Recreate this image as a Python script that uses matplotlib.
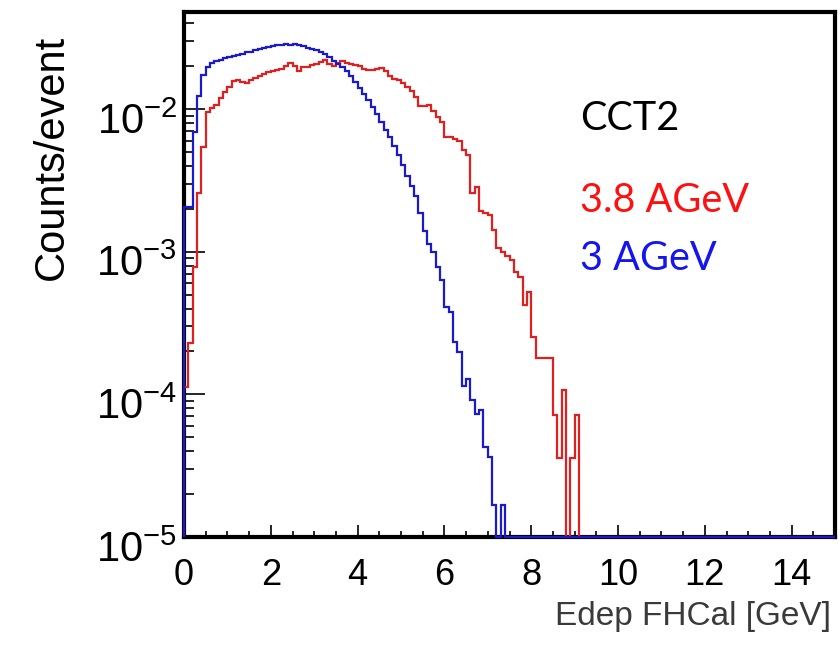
import numpy as np
import matplotlib
matplotlib.use("Agg")
import matplotlib.pyplot as plt
import matplotlib.transforms as mtransforms
from matplotlib.ticker import LogLocator, MultipleLocator, LogFormatterMathtext, NullFormatter

# ---------------- data (counts/event per 0.1 GeV bin, starting at 0 GeV) ----------------
bin_width = 0.1
n_bins = 150

red_38agev = [
    1.13e-4, 2.30e-4, 7.85e-4, 2.59e-3, 5.46e-3, 9.60e-3, 1.024e-2, 1.076e-2, 1.204e-2, 1.327e-2,
    1.439e-2, 1.585e-2, 1.611e-2, 1.560e-2, 1.535e-2, 1.611e-2, 1.664e-2, 1.718e-2, 1.775e-2, 1.833e-2,
    1.863e-2, 1.893e-2, 1.924e-2, 2.020e-2, 2.120e-2, 2.020e-2, 1.863e-2, 1.987e-2, 1.987e-2, 2.052e-2,
    2.086e-2, 2.154e-2, 2.225e-2, 2.086e-2, 2.020e-2, 2.120e-2, 2.189e-2, 2.120e-2, 2.086e-2, 2.052e-2,
    2.020e-2, 1.924e-2, 1.893e-2, 1.893e-2, 1.924e-2, 1.955e-2, 1.863e-2, 1.718e-2, 1.637e-2, 1.611e-2,
    1.517e-2, 1.439e-2, 1.348e-2, 1.224e-2, 1.058e-2, 1.058e-2, 1.076e-2, 9.76e-3, 8.86e-3, 8.17e-3,
    6.41e-3, 6.41e-3, 6.21e-3, 6.01e-3, 5.20e-3, 4.79e-3, 2.59e-3, 2.86e-3, 1.94e-3, 1.88e-3,
    1.82e-3, 1.43e-3, 1.07e-3, 1.00e-3, 9.37e-4, 8.79e-4, 7.24e-4, 6.68e-4, 4.25e-4, 5.24e-4,
    2.53e-4, 1.79e-4, 1.79e-4, 1.79e-4, 1.79e-4, 7.16e-5, 3.58e-5, 1.07e-4, 0.0, 3.58e-5,
    7.16e-5,
]

blue_3agev = [
    2.07e-3, 2.07e-3, 6.95e-3, 1.243e-2, 1.746e-2, 1.987e-2, 2.120e-2, 2.189e-2, 2.225e-2, 2.298e-2,
    2.335e-2, 2.373e-2, 2.412e-2, 2.452e-2, 2.532e-2, 2.532e-2, 2.615e-2, 2.658e-2, 2.701e-2, 2.745e-2,
    2.767e-2, 2.835e-2, 2.835e-2, 2.858e-2, 2.835e-2, 2.858e-2, 2.812e-2, 2.758e-2, 2.701e-2, 2.658e-2,
    2.615e-2, 2.532e-2, 2.452e-2, 2.335e-2, 2.189e-2, 2.086e-2, 1.987e-2, 1.863e-2, 1.718e-2, 1.560e-2,
    1.416e-2, 1.285e-2, 1.166e-2, 1.041e-2, 9.30e-3, 8.17e-3, 7.18e-3, 6.41e-3, 5.55e-3, 4.79e-3,
    4.08e-3, 3.41e-3, 2.90e-3, 2.47e-3, 1.88e-3, 1.40e-3, 1.14e-3, 1.00e-3, 7.85e-4, 6.36e-4,
    4.11e-4, 3.79e-4, 2.33e-4, 1.99e-4, 1.15e-4, 1.29e-4, 9.15e-5, 7.29e-5, 7.78e-5, 4.28e-5,
    3.64e-5, 1.68e-5, 0.0, 1.68e-5,
]

x_limits = (0, 15)
y_limits = (1e-5, 0.048)
x_ticks = [0, 2, 4, 6, 8, 10, 12, 14]

title_y = "Counts/event"
title_x = "Edep FHCal [GeV]"
label_setup = "CCT2"
label_red = "3.8 AGeV"
label_blue = "3 AGeV"

# ---------------- plotting ----------------
plt.rcParams['font.family'] = ['Liberation Sans', 'DejaVu Sans']
plt.rcParams['mathtext.default'] = 'regular'

W, H = 840, 647
fig = plt.figure(figsize=(W / 100, H / 100), dpi=100)
ax = fig.add_axes([184 / W, 1 - 537 / H, (835 - 184) / W, (537 - 12) / H])

edges = np.arange(n_bins + 1) * bin_width


def full(vals):
    v = np.zeros(n_bins)
    v[:len(vals)] = vals
    return v


ymin = y_limits[0]
for vals, col in [(red_38agev, '#e02020'), (blue_3agev, '#1a1acc')]:
    v = np.clip(full(vals), ymin, None)
    ax.stairs(v, edges, baseline=ymin, color=col, lw=1.6, zorder=3, clip_on=False)

ax.set_yscale('log')
ax.set_xlim(*x_limits)
ax.set_ylim(*y_limits)

ax.set_xticks(x_ticks)
ax.xaxis.set_minor_locator(MultipleLocator(0.5))
ax.yaxis.set_major_locator(LogLocator(base=10, numticks=20))
ax.yaxis.set_minor_locator(LogLocator(base=10, subs=np.arange(2, 10), numticks=20))
ax.yaxis.set_major_formatter(LogFormatterMathtext())
ax.yaxis.set_minor_formatter(NullFormatter())

ax.tick_params(axis='both', which='both', direction='in', top=False, right=False,
               color='black', width=1.2)
ax.tick_params(axis='y', which='major', length=15, labelsize=30, pad=5)
ax.tick_params(axis='y', which='minor', length=7)
ax.tick_params(axis='x', which='major', length=9, labelsize=26, pad=15)
ax.tick_params(axis='x', which='minor', length=4.5)

for sp in ax.spines.values():
    sp.set_linewidth(3)
    sp.set_color('black')

fig.text(52 / W, 1 - 35 / H, title_y, rotation=90, ha='center', va='top', fontsize=30)
fig.text(831 / W, 1 - 617 / H, title_x, ha='right', va='center', fontsize=24, color='#3a3a3a')

fig.text(580 / W, 1 - 118 / H, label_setup, ha='left', va='center', fontsize=28.5,
         family='Lato', color='black')
fig.text(580 / W, 1 - 200 / H, label_red, ha='left', va='center', fontsize=28.5,
         family='Lato', color='#ff1010')
fig.text(580 / W, 1 - 258 / H, label_blue, ha='left', va='center', fontsize=28.5,
         family='Lato', color='#1515ee')

# shift y tick labels slightly downward (ROOT-style placement)
fig.canvas.draw()
shift = mtransforms.ScaledTranslation(0, -9 / 100, fig.dpi_scale_trans)
for tick in ax.yaxis.get_major_ticks():
    tick.label1.set_transform(tick.label1.get_transform() + shift)

fig.savefig('out.png', dpi=100, facecolor='white')
